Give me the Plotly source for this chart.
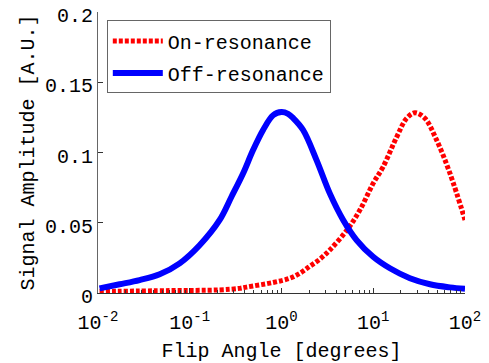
import plotly.graph_objects as go

# Off-resonance (blue)
off_x = [0.0104, 0.0172, 0.0284, 0.047, 0.0776, 0.128, 0.212, 0.285, 0.381, 0.49, 0.63, 0.81, 1.0, 1.18,
         1.34, 1.72, 2.41, 3.36, 4.70, 6.58, 9.97, 15.2, 25.1, 41.5, 68.6, 100]
off_y = [0.0033, 0.0062, 0.0092, 0.0133, 0.0211, 0.034, 0.052, 0.0685, 0.085, 0.1017, 0.116, 0.1265, 0.1288, 0.1275,
         0.1245, 0.116, 0.0946, 0.0709, 0.052, 0.0377, 0.0258, 0.0176, 0.0105, 0.0062, 0.004, 0.003]

# On-resonance (red)
on_x = [0.0104, 0.06, 0.21, 0.35, 0.415, 0.81, 1.23, 1.58, 2.03, 2.61, 3.36, 5.12, 7.15, 9.97,
        12.8, 18.0, 23.1, 28.5, 36.6, 49.1, 68.6, 100]
on_y = [0.001, 0.0017, 0.0022, 0.0033, 0.0042, 0.0075, 0.0105, 0.014, 0.019, 0.024, 0.0306, 0.0445, 0.059, 0.078,
        0.0898, 0.111, 0.1243, 0.1283, 0.1243, 0.1088, 0.0851, 0.052]

x_tickvals = [0.01, 0.1, 1, 10, 100]
x_ticktext = ["10<sup>-2</sup>", "10<sup>-1</sup>", "10<sup>0</sup>", "10<sup>1</sup>", "10<sup>2</sup>"]
y_tickvals = [0, 0.05, 0.1, 0.15, 0.2]
y_ticktext = ["0", "0.05", "0.1", "0.15", "0.2"]

minor_vals = [m * 10 ** e for e in range(-2, 2) for m in range(2, 10)]

FONT = "Liberation Mono, Courier New, monospace"
FS = 20

fig = go.Figure()
fig.add_trace(go.Scatter(x=on_x, y=on_y, mode="lines", name="On-resonance", legendgroup="on",
                         line=dict(color="#ff0000", width=5, dash="4px,2px", shape="spline", smoothing=1.0)))
fig.add_trace(go.Scatter(x=off_x, y=off_y, mode="lines", name="Off-resonance", legendgroup="off",
                         line=dict(color="#0000ff", width=6, shape="spline", smoothing=1.0)))

fig.update_layout(
    width=489, height=363,
    margin=dict(l=98, r=24, t=12, b=70),
    paper_bgcolor="white", plot_bgcolor="white",
    font=dict(family=FONT, size=FS, color="black"),
    showlegend=True,
    legend=dict(x=0.024, y=0.97, xanchor="left", yanchor="top",
                bgcolor="white", bordercolor="#666666", borderwidth=1,
                font=dict(family=FONT, size=FS), tracegroupgap=3, itemwidth=50),
)
fig.update_xaxes(
    type="log", range=[-2, 2], automargin=False,
    tickvals=x_tickvals, ticktext=x_ticktext,
    ticks="inside", ticklen=5, tickcolor="#333333",
    showline=True, linecolor="#333333", linewidth=1,
    showgrid=False, zeroline=False,
    ticklabelstandoff=11, ticklabeloverflow="allow",
    minor=dict(ticks="inside", ticklen=3, tickcolor="#333333", tickvals=minor_vals, showgrid=False),
    title=dict(text="Flip Angle [degrees]", standoff=10, font=dict(family=FONT, size=FS)),
)
fig.update_yaxes(
    range=[0, 0.2], automargin=False,
    tickvals=y_tickvals, ticktext=y_ticktext,
    ticks="inside", ticklen=5, tickcolor="#333333",
    showline=True, linecolor="#666666", linewidth=1,
    showgrid=False, zeroline=False,
    ticklabelstandoff=0, ticklabeloverflow="allow", ticklabelshift=3,
    title=dict(text="Signal Amplitude [A.U.]", standoff=4, font=dict(family=FONT, size=FS)),
)

# remove the browser's default 8px body margin so the figure sits at the page origin
fig.write_html("out.html", config={"displayModeBar": False},
               post_script="document.body.style.margin='0';")
